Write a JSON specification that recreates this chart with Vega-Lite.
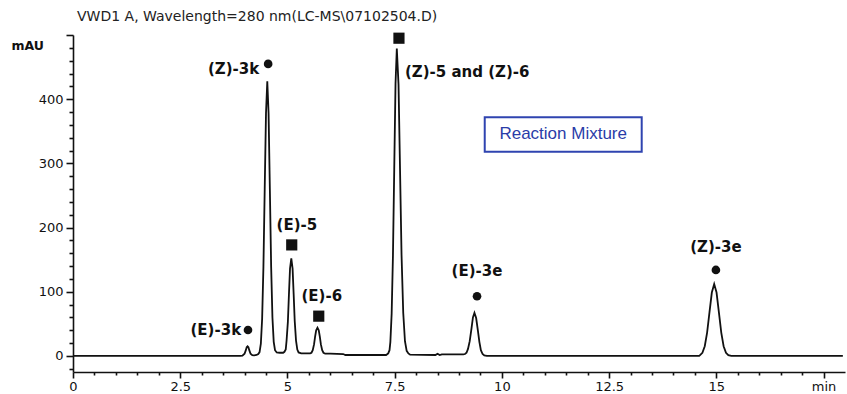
{
  "$schema": "https://vega.github.io/schema/vega-lite/v6.json",
  "width": 772,
  "height": 337,
  "autosize": {"type": "none"},
  "padding": {"left": 73, "top": 35, "right": 2, "bottom": 22},
  "background": "white",
  "config": {
    "view": {"stroke": null},
    "font": "DejaVu Sans",
    "axis": {"domainColor": "#111", "tickColor": "#111", "domainWidth": 1.6, "tickWidth": 1.6, "labelColor": "#111", "labelFont": "DejaVu Sans", "labelFontSize": 13, "grid": false}
  },
  "title": {"text": "VWD1 A, Wavelength=280 nm(LC-MS\\07102504.D)", "anchor": "start", "frame": "group", "offset": 5, "dx": 4, "fontSize": 14, "fontWeight": "normal", "font": "DejaVu Sans", "color": "#222"},
  "datasets": {
    "trace": [
      {"t": 0, "mAU": 0}, {"t": 3.9, "mAU": 0}, {"t": 3.95, "mAU": 0.4}, {"t": 4.0, "mAU": 3.5}, {"t": 4.03, "mAU": 9}, {"t": 4.05, "mAU": 13.5}, {"t": 4.07, "mAU": 15}, {"t": 4.09, "mAU": 13.5}, {"t": 4.11, "mAU": 9}, {"t": 4.14, "mAU": 3.5}, {"t": 4.18, "mAU": 1.2}, {"t": 4.22, "mAU": 1.0}, {"t": 4.28, "mAU": 1.5}, {"t": 4.32, "mAU": 3}, {"t": 4.35, "mAU": 6}, {"t": 4.38, "mAU": 19}, {"t": 4.41, "mAU": 58}, {"t": 4.44, "mAU": 139}, {"t": 4.47, "mAU": 260}, {"t": 4.5, "mAU": 378}, {"t": 4.53, "mAU": 428}, {"t": 4.56, "mAU": 378}, {"t": 4.59, "mAU": 260}, {"t": 4.62, "mAU": 139}, {"t": 4.65, "mAU": 60}, {"t": 4.68, "mAU": 22}, {"t": 4.71, "mAU": 9}, {"t": 4.75, "mAU": 5.5}, {"t": 4.82, "mAU": 5}, {"t": 4.9, "mAU": 5}, {"t": 4.93, "mAU": 6.5}, {"t": 4.96, "mAU": 10}, {"t": 4.98, "mAU": 24}, {"t": 5.01, "mAU": 53}, {"t": 5.035, "mAU": 96}, {"t": 5.06, "mAU": 136}, {"t": 5.09, "mAU": 152}, {"t": 5.12, "mAU": 136}, {"t": 5.145, "mAU": 96}, {"t": 5.17, "mAU": 54}, {"t": 5.2, "mAU": 24}, {"t": 5.23, "mAU": 10}, {"t": 5.26, "mAU": 5.5}, {"t": 5.32, "mAU": 4}, {"t": 5.45, "mAU": 4}, {"t": 5.53, "mAU": 4}, {"t": 5.56, "mAU": 5}, {"t": 5.59, "mAU": 9}, {"t": 5.62, "mAU": 18}, {"t": 5.645, "mAU": 30}, {"t": 5.67, "mAU": 40}, {"t": 5.7, "mAU": 44}, {"t": 5.73, "mAU": 40}, {"t": 5.755, "mAU": 30}, {"t": 5.78, "mAU": 18}, {"t": 5.81, "mAU": 9}, {"t": 5.84, "mAU": 5}, {"t": 5.88, "mAU": 3.5}, {"t": 6.0, "mAU": 3.5}, {"t": 6.3, "mAU": 3}, {"t": 6.35, "mAU": 1.5}, {"t": 7.3, "mAU": 1.5}, {"t": 7.35, "mAU": 4}, {"t": 7.38, "mAU": 9}, {"t": 7.4, "mAU": 22}, {"t": 7.43, "mAU": 66}, {"t": 7.46, "mAU": 156}, {"t": 7.49, "mAU": 291}, {"t": 7.52, "mAU": 424}, {"t": 7.55, "mAU": 479}, {"t": 7.59, "mAU": 423}, {"t": 7.625, "mAU": 291}, {"t": 7.66, "mAU": 158}, {"t": 7.7, "mAU": 67}, {"t": 7.74, "mAU": 23}, {"t": 7.78, "mAU": 8}, {"t": 7.82, "mAU": 4}, {"t": 7.86, "mAU": 2}, {"t": 8.45, "mAU": 1.5}, {"t": 8.5, "mAU": 3.5}, {"t": 8.55, "mAU": 1.5}, {"t": 8.6, "mAU": 2.5}, {"t": 9.1, "mAU": 2.5}, {"t": 9.14, "mAU": 3}, {"t": 9.175, "mAU": 5}, {"t": 9.21, "mAU": 11}, {"t": 9.25, "mAU": 23}, {"t": 9.29, "mAU": 42}, {"t": 9.325, "mAU": 60}, {"t": 9.36, "mAU": 67}, {"t": 9.4, "mAU": 59}, {"t": 9.44, "mAU": 40}, {"t": 9.475, "mAU": 22}, {"t": 9.51, "mAU": 9}, {"t": 9.55, "mAU": 3}, {"t": 9.59, "mAU": 0.7}, {"t": 9.65, "mAU": 0}, {"t": 14.6, "mAU": 0}, {"t": 14.62, "mAU": 1.2}, {"t": 14.675, "mAU": 4.9}, {"t": 14.73, "mAU": 15.2}, {"t": 14.785, "mAU": 36.4}, {"t": 14.84, "mAU": 67.9}, {"t": 14.895, "mAU": 98.8}, {"t": 14.95, "mAU": 112}, {"t": 15.005, "mAU": 98.8}, {"t": 15.06, "mAU": 67.9}, {"t": 15.115, "mAU": 36.4}, {"t": 15.17, "mAU": 15.2}, {"t": 15.225, "mAU": 4.9}, {"t": 15.28, "mAU": 1.2}, {"t": 15.35, "mAU": 0}, {"t": 17.95, "mAU": 0}
    ],
    "markers": [
      {"t": 4.08, "mAU": 40.5, "shape": "circle"},
      {"t": 4.55, "mAU": 455, "shape": "circle"},
      {"t": 5.1, "mAU": 173, "shape": "square"},
      {"t": 5.73, "mAU": 62, "shape": "square"},
      {"t": 7.6, "mAU": 495, "shape": "square"},
      {"t": 9.42, "mAU": 93, "shape": "circle"},
      {"t": 14.99, "mAU": 134, "shape": "circle"}
    ],
    "labels": [
      {"t": 3.92, "mAU": 40.5, "label": "(E)-3k", "side": "right"},
      {"t": 4.34, "mAU": 447, "label": "(Z)-3k", "side": "right"},
      {"t": 5.22, "mAU": 204, "label": "(E)-5", "side": "center"},
      {"t": 5.8, "mAU": 93, "label": "(E)-6", "side": "center"},
      {"t": 7.74, "mAU": 442, "label": "(Z)-5 and (Z)-6", "side": "left"},
      {"t": 9.42, "mAU": 132, "label": "(E)-3e", "side": "center"},
      {"t": 14.99, "mAU": 170, "label": "(Z)-3e", "side": "center"}
    ],
    "box": [
      {"t": 9.6, "t2": 13.26, "mAU": 372, "mAU2": 318}
    ],
    "boxtext": [
      {"t": 11.43, "mAU": 345, "text": "Reaction Mixture"}
    ]
  },
  "encoding": {
    "x": {"field": "t", "type": "quantitative",
      "scale": {"domain": [0, 18], "nice": false, "zero": false},
      "axis": {"title": null, "values": [0,0.5,1,1.5,2,2.5,3,3.5,4,4.5,5,5.5,6,6.5,7,7.5,8,8.5,9,9.5,10,10.5,11,11.5,12,12.5,13,13.5,14,14.5,15,15.5,16,16.5,17,17.5],
        "labelExpr": "datum.value == 17.5 ? 'min' : (datum.value % 2.5 == 0 ? format(datum.value, '~g') : '')",
        "tickSize": {"condition": {"test": "datum.value % 2.5 == 0", "value": 6}, "value": 3},
        "labelPadding": 2, "labelFlush": false, "labelOverlap": false}
    },
    "y": {"field": "mAU", "type": "quantitative",
      "scale": {"domain": [-25, 500], "nice": false, "zero": false},
      "axis": {"title": "mAU", "titleAngle": 0, "titleX": -62, "titleY": 10, "titleAlign": "left", "titleBaseline": "middle", "titleFontSize": 12.5, "titleFontWeight": "bold", "titleFont": "DejaVu Sans", "titleColor": "#111",
        "values": [-20,0,20,40,60,80,100,120,140,160,180,200,220,240,260,280,300,320,340,360,380,400,420,440,460,480,500],
        "labelExpr": "(datum.value % 100 == 0 && datum.value >= 0 && datum.value < 500) ? format(datum.value, 'd') : ''",
        "tickSize": {"condition": {"test": "datum.value % 100 == 0", "value": 7}, "value": 4},
        "labelPadding": 3, "labelOverlap": false, "labelFlush": false}
    }
  },
  "layer": [
    {
      "data": {"name": "trace"},
      "mark": {"type": "line", "color": "#111", "strokeWidth": 1.8, "clip": true, "interpolate": "linear"}
    },
    {
      "data": {"name": "markers"},
      "transform": [{"filter": "datum.shape == 'circle'"}],
      "mark": {"type": "point", "shape": "circle", "filled": true, "color": "#111", "size": 75, "opacity": 1}
    },
    {
      "data": {"name": "markers"},
      "transform": [{"filter": "datum.shape == 'square'"}],
      "mark": {"type": "point", "shape": "square", "filled": true, "color": "#111", "size": 125, "opacity": 1}
    },
    {
      "data": {"name": "labels"},
      "transform": [{"filter": "datum.side == 'right'"}],
      "mark": {"type": "text", "align": "right", "baseline": "middle", "fontSize": 15, "fontWeight": "bold", "font": "DejaVu Sans", "color": "#111"},
      "encoding": {"text": {"field": "label"}}
    },
    {
      "data": {"name": "labels"},
      "transform": [{"filter": "datum.side == 'center'"}],
      "mark": {"type": "text", "align": "center", "baseline": "middle", "fontSize": 15, "fontWeight": "bold", "font": "DejaVu Sans", "color": "#111"},
      "encoding": {"text": {"field": "label"}}
    },
    {
      "data": {"name": "labels"},
      "transform": [{"filter": "datum.side == 'left'"}],
      "mark": {"type": "text", "align": "left", "baseline": "middle", "fontSize": 15, "fontWeight": "bold", "font": "DejaVu Sans", "color": "#111"},
      "encoding": {"text": {"field": "label"}}
    },
    {
      "data": {"name": "box"},
      "mark": {"type": "rect", "fill": "white", "stroke": "#2f44b0", "strokeWidth": 2},
      "encoding": {"x2": {"field": "t2"}, "y2": {"field": "mAU2"}}
    },
    {
      "data": {"name": "boxtext"},
      "mark": {"type": "text", "align": "center", "baseline": "middle", "fontSize": 17, "font": "Liberation Sans", "color": "#2a3ca8"},
      "encoding": {"text": {"field": "text"}}
    }
  ]
}
